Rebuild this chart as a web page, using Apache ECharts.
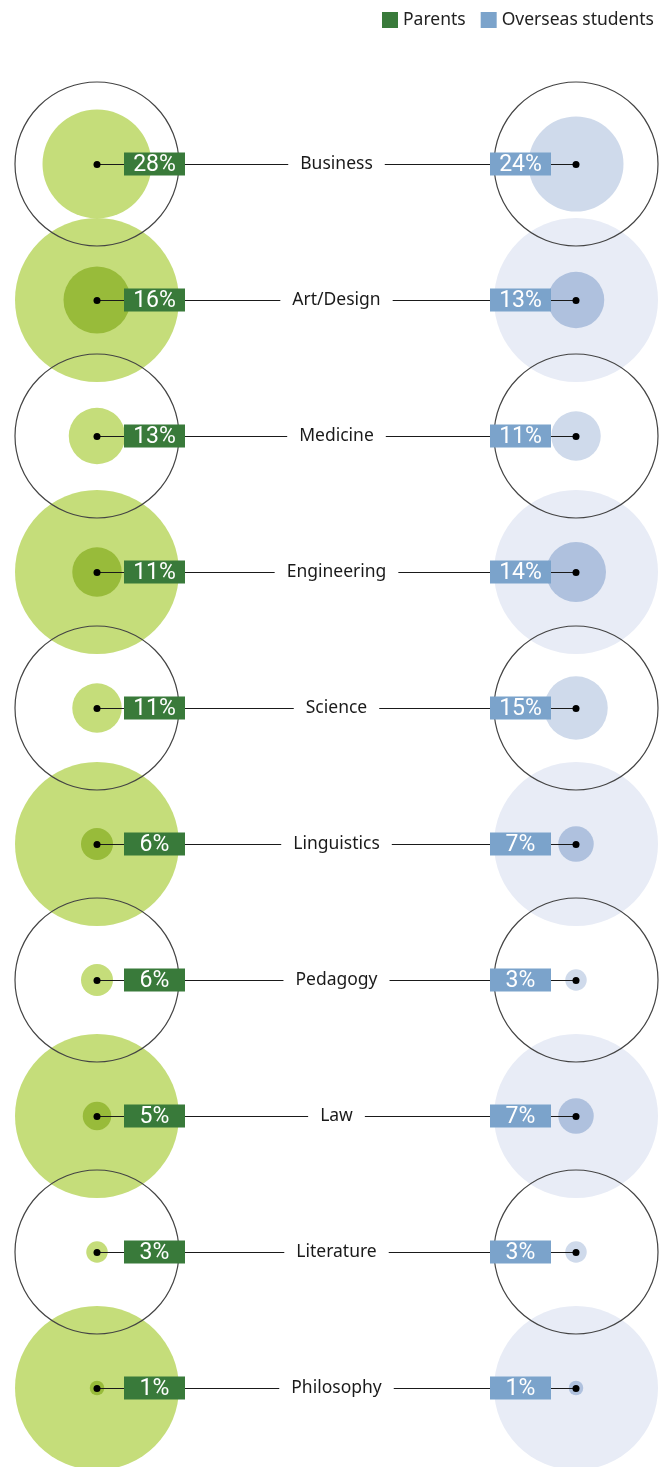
<!DOCTYPE html>
<html>
<head>
<meta charset="utf-8">
<script src="https://cdn.jsdelivr.net/npm/echarts@6/dist/echarts.min.js"></script>
<style>
  html, body { margin: 0; padding: 0; background: #fff; }
  #chart { width: 668px; height: 1467px; }
</style>
</head>
<body>
<div id="chart"></div>
<script>
// data
const categories = ['Business', 'Art/Design', 'Medicine', 'Engineering', 'Science',
  'Linguistics', 'Pedagogy', 'Law', 'Literature', 'Philosophy']
const parents = [28, 16, 13, 11, 11, 6, 6, 5, 3, 1]
const overseas = [24, 13, 11, 14, 15, 7, 3, 7, 3, 1]

// layout
const LEFT_X = 97
const RIGHT_X = 576
const RING_R = 82
const FONT = '"Noto Sans", Roboto, sans-serif'

const COLORS = {
  parents: '#397a3a',
  overseas: '#7ba3cb',
  greenRing: '#c5dd7a',
  greenDark: '#98bb3a',
  blueRing: '#e8ecf6',
  blueLight: '#cfdaeb',
  blueDark: '#afc1de',
  outline: '#444'
}

const innerR = v => 5.5 + 1.75 * v

const rows = categories.map((c, i) => [0, i, parents[i], overseas[i]])

const chart = echarts.init(document.getElementById('chart'))

// big circles: filled on odd rows, outlined on even rows
const ringFill = (params, api) => {
  const i = api.value(1)
  if (i % 2 === 0) return { type: 'group', children: [] }
  const y = api.coord([0, i])[1]
  return {
    type: 'group',
    children: [
      { type: 'circle', shape: { cx: api.coord([LEFT_X, i])[0], cy: y, r: RING_R }, style: { fill: COLORS.greenRing } },
      { type: 'circle', shape: { cx: api.coord([RIGHT_X, i])[0], cy: y, r: RING_R }, style: { fill: COLORS.blueRing } }
    ]
  }
}

const ringLine = (params, api) => {
  const i = api.value(1)
  if (i % 2 === 1) return { type: 'group', children: [] }
  const y = api.coord([0, i])[1]
  const st = { fill: null, stroke: COLORS.outline, lineWidth: 1.2 }
  return {
    type: 'group',
    children: [
      { type: 'circle', shape: { cx: api.coord([LEFT_X, i])[0], cy: y, r: RING_R }, style: st },
      { type: 'circle', shape: { cx: api.coord([RIGHT_X, i])[0], cy: y, r: RING_R }, style: st }
    ]
  }
}

const inner = (side) => (params, api) => {
  const i = api.value(1)
  const v = api.value(side === 'left' ? 2 : 3)
  const p = api.coord([side === 'left' ? LEFT_X : RIGHT_X, i])
  let fill
  if (side === 'left') fill = i % 2 ? COLORS.greenDark : COLORS.greenRing
  else fill = i % 2 ? COLORS.blueDark : COLORS.blueLight
  return { type: 'circle', shape: { cx: p[0], cy: p[1], r: innerR(v) }, style: { fill } }
}

const connector = (params, api) => {
  const i = api.value(1)
  const l = api.coord([LEFT_X, i])
  const r = api.coord([RIGHT_X, i])
  const y = Math.round(l[1]) + 0.5
  const mid = (l[0] + r[0]) / 2
  const boxW = 61
  const boxH = 23
  const box = (x, color, v) => ([
    { type: 'rect', z2: 2, shape: { x, y: y - boxH / 2 - 0.5, width: boxW, height: boxH }, style: { fill: color } },
    { type: 'text', z2: 3, style: { text: v + '%', x: x + boxW / 2, y: y + 0.5, align: 'center', verticalAlign: 'middle',
      fill: '#fff', font: '23px Roboto, sans-serif' } }
  ])
  return {
    type: 'group',
    children: [
      { type: 'line', z2: 0, shape: { x1: l[0], y1: y, x2: r[0], y2: y }, style: { stroke: '#1a1a1a', lineWidth: 1 } },
      { type: 'text', z2: 1, style: { text: categories[i], x: mid, y: y, align: 'center', verticalAlign: 'middle',
        fill: '#1a1a1a', font: '17.5px ' + FONT, backgroundColor: '#fff', padding: [4, 12] } },
      ...box(l[0] + 27, COLORS.parents, api.value(2)),
      ...box(r[0] - 25 - boxW, COLORS.overseas, api.value(3)),
      { type: 'circle', z2: 4, shape: { cx: l[0], cy: y, r: 3.5 }, style: { fill: '#000' } },
      { type: 'circle', z2: 4, shape: { cx: r[0], cy: y, r: 3.5 }, style: { fill: '#000' } }
    ]
  }
}

const option = {
  animation: false,
  legend: {
    top: 6,
    right: 9,
    icon: 'rect',
    itemWidth: 16,
    itemHeight: 16,
    itemGap: 15,
    data: ['Parents', 'Overseas students'],
    textStyle: { fontSize: 17.5, color: '#222', fontFamily: FONT }
  },
  grid: { left: 0, right: 0, top: 96, bottom: 11 },
  xAxis: { type: 'value', min: 0, max: 668, show: false },
  yAxis: { type: 'category', data: categories, inverse: true, show: false },
  series: [
    { type: 'custom', name: 'rings', z: 1, data: rows, renderItem: ringFill, silent: true },
    { type: 'custom', name: 'Parents', z: 2, data: rows, renderItem: inner('left'), itemStyle: { color: COLORS.parents } },
    { type: 'custom', name: 'Overseas students', z: 2, data: rows, renderItem: inner('right'), itemStyle: { color: COLORS.overseas } },
    { type: 'custom', name: 'outlines', z: 3, data: rows, renderItem: ringLine, silent: true },
    { type: 'custom', name: 'connectors', z: 4, data: rows, renderItem: connector, silent: true }
  ]
}

chart.setOption(option)
</script>
</body>
</html>
